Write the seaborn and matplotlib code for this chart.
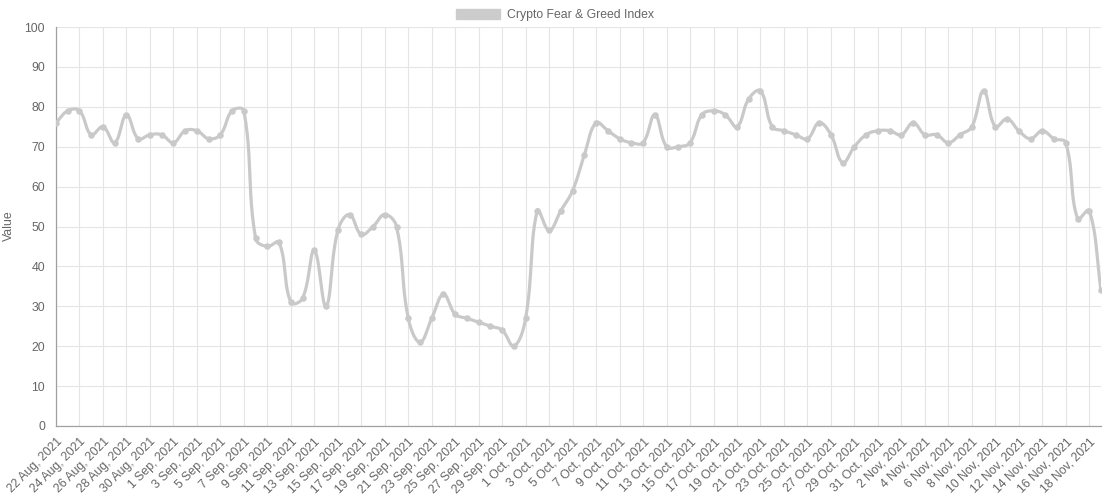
import numpy as np
import pandas as pd
import matplotlib
matplotlib.use("Agg")
import matplotlib.pyplot as plt
from matplotlib.patches import Patch
import seaborn as sns

# daily values, 22 Aug 2021 .. 19 Nov 2021
dates = pd.date_range("2021-08-22", "2021-11-19", freq="D")
values = [76, 79, 79, 73, 75, 71, 78, 72, 73, 73,
          71, 74, 74, 72, 73, 79, 79, 47, 45, 46,
          31, 32, 44, 30, 49, 53, 48, 50, 53, 50,
          27, 21, 27, 33, 28, 27, 26, 25, 24, 20,
          27, 54, 49, 54, 59, 68, 76, 74, 72, 71,
          71, 78, 70, 70, 71, 78, 79, 78, 75, 82,
          84, 75, 74, 73, 72, 76, 73, 66, 70, 73,
          74, 74, 73, 76, 73, 73, 71, 73, 75, 84,
          75, 77, 74, 72, 74, 72, 71, 52, 54, 34]
labels = [f"{d.day} {d.strftime('%b')}, {d.year}" for d in dates]
series_name = "Crypto Fear & Greed Index"

df = pd.DataFrame({"idx": np.arange(len(values)), "value": values, "label": labels})

# Chart.js-like spline (tension 0.4), distances measured in pixel space
def spline(xs, ys, tension=0.4, sx=11.74, sy=3.99):
    n = len(xs)
    px, py = np.asarray(xs, float) * sx, np.asarray(ys, float) * sy
    cp_prev = np.zeros((n, 2)); cp_next = np.zeros((n, 2))
    for i in range(n):
        p0 = (px[max(i - 1, 0)], py[max(i - 1, 0)])
        p1 = (px[i], py[i])
        p2 = (px[min(i + 1, n - 1)], py[min(i + 1, n - 1)])
        d01 = np.hypot(p1[0] - p0[0], p1[1] - p0[1])
        d12 = np.hypot(p2[0] - p1[0], p2[1] - p1[1])
        tot = d01 + d12
        s01 = d01 / tot if tot else 0
        s12 = d12 / tot if tot else 0
        fa, fb = tension * s01, tension * s12
        cp_prev[i] = (p1[0] - fa * (p2[0] - p0[0]), p1[1] - fa * (p2[1] - p0[1]))
        cp_next[i] = (p1[0] + fb * (p2[0] - p0[0]), p1[1] + fb * (p2[1] - p0[1]))
    t = np.linspace(0, 1, 25)[:, None]
    out = []
    for i in range(n - 1):
        P0 = np.array([px[i], py[i]]); P3 = np.array([px[i + 1], py[i + 1]])
        P1 = cp_next[i]; P2 = cp_prev[i + 1]
        seg = ((1 - t) ** 3) * P0 + 3 * ((1 - t) ** 2) * t * P1 + 3 * (1 - t) * t ** 2 * P2 + t ** 3 * P3
        out.append(seg if i == 0 else seg[1:])
    out = np.vstack(out)
    return out[:, 0] / sx, out[:, 1] / sy

cx, cy = spline(df["idx"], df["value"])
curve = pd.DataFrame({"x": cx, "y": cy})

sns.set_style("white")
plt.rcParams["font.family"] = ["Liberation Sans", "DejaVu Sans"]

line_color = "#c9c9c9"
text_color = "#666666"

fig = plt.figure(figsize=(11.1, 4.96), dpi=100)
ax = fig.add_axes([56 / 1110, 1 - 426 / 496, (1101 - 56) / 1110, (426 - 27) / 496])

sns.lineplot(data=curve, x="x", y="y", ax=ax, color=line_color, linewidth=2.3,
             sort=False, estimator=None, zorder=3)
sns.scatterplot(data=df, x="idx", y="value", ax=ax, color=line_color, s=22,
                edgecolor=line_color, linewidth=0, zorder=4)

ax.set_xlim(0, len(values) - 1)
ax.set_ylim(0, 100)
ax.set_yticks(np.arange(0, 101, 10))
tick_idx = np.arange(0, len(values) - 1, 2)
ax.set_xticks(tick_idx)
ax.set_xticklabels([labels[i] for i in tick_idx], rotation=45, ha="right",
                   rotation_mode="anchor", fontsize=8.8, color=text_color)
ax.tick_params(axis="y", labelsize=8.8, labelcolor=text_color, length=5, color="#e0e0e0", pad=3)
ax.tick_params(axis="x", length=5, color="#e0e0e0", pad=2)
ax.grid(True, color="#e5e5e5", linewidth=0.8, zorder=0)
ax.set_axisbelow(True)

for s in ["top", "right"]:
    ax.spines[s].set_visible(False)
for s in ["left", "bottom"]:
    ax.spines[s].set_color("#a0a0a0")
    ax.spines[s].set_linewidth(0.9)

ax.set_xlabel("")
ax.set_ylabel("")
fig.text(9 / 1110, 1 - 226 / 496, "Value", rotation=90, ha="center", va="center",
         fontsize=8.8, color=text_color)

handle = Patch(facecolor="#cccccc", edgecolor="#cccccc", label=series_name)
fig.legend(handles=[handle], loc="upper center", bbox_to_anchor=(0.5, 1.005), frameon=False,
           fontsize=8.8, handlelength=3.6, handleheight=1.0, handletextpad=0.6,
           labelcolor=text_color)

fig.savefig("out.png", dpi=100)
